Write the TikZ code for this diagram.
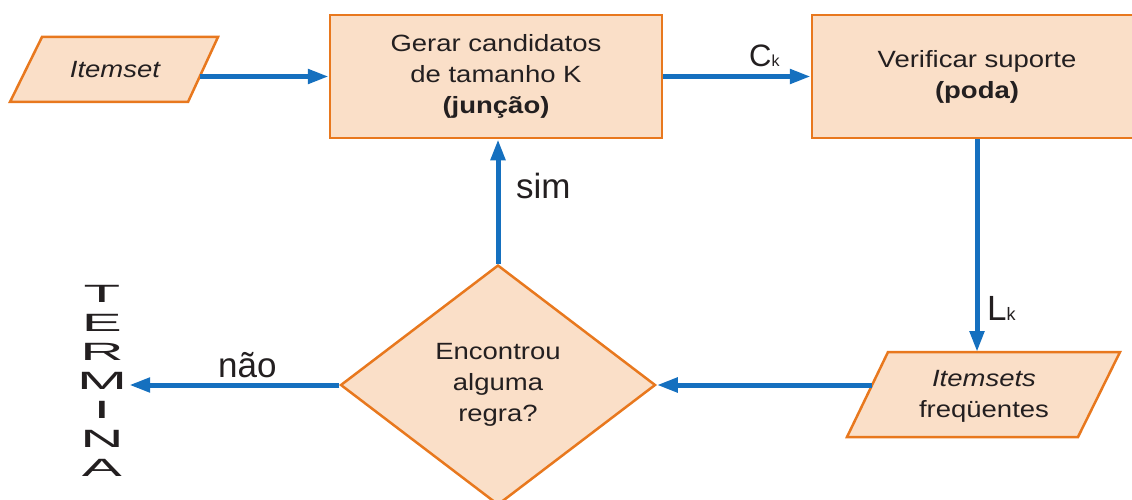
\documentclass[tikz,border=0pt]{standalone}
\usepackage{fontspec}
\setmainfont{Liberation Sans}
\newfontfamily\boxfont{Liberation Sans}[FakeStretch=1.17]
\newfontfamily\termfont{Liberation Sans}[FakeStretch=2.4]
\usetikzlibrary{shapes.geometric,arrows.meta}
\definecolor{peach}{RGB}{250,223,200}
\definecolor{orng}{RGB}{232,120,30}
\definecolor{arrblue}{RGB}{21,112,191}
\definecolor{ink}{RGB}{35,31,32}
\begin{document}
\begin{tikzpicture}[x=1pt,y=-1pt,
  shapebox/.style={draw=orng, fill=peach, line width=2.5pt},
  proc/.style={shapebox, rectangle, minimum width=332pt, minimum height=123pt, inner sep=0pt},
  boxtext/.style={text=ink, align=center, font=\boxfont\fontsize{23.5}{31}\selectfont},
  flow/.style={draw=arrblue, line width=5pt, -{Triangle[length=21pt,width=14pt]}},
  lbl/.style={text=ink, inner sep=0pt, anchor=base west}]
\clip (0,0) rectangle (1132,500);

% Itemset (input)
\draw[shapebox] (42,37) -- (218,37) -- (188,102) -- (10,102) -- cycle;
\node[boxtext, anchor=base, inner sep=0pt] (itemset) at (115,78) {\itshape Itemset};
\coordinate (itemsetout) at (199.5,76.5);

% process boxes
\node[proc, boxtext] (gerar) at (496,76.5) {Gerar candidatos\\de tamanho K\\\textbf{(junção)}};
\node[proc, boxtext, minimum width=330pt] (verif) at (977,76.5) {Verificar suporte\\\textbf{(poda)}};

% Itemsets frequentes
\draw[shapebox] (888,352) -- (1120,352) -- (1078,437) -- (847,437) -- cycle;
\node[boxtext, inner sep=0pt] (freq) at (984,396) {\textit{Itemsets}\\freqüentes};
\coordinate (freqin) at (977,352);
\coordinate (freqout) at (872,385);

% decision
\node[shapebox, diamond, boxtext, minimum width=315pt, minimum height=240pt, inner sep=0pt] (dec) at (498,385) {Encontrou\\alguma\\regra?};

% TERMINA
\node[text=ink, align=center, inner sep=2pt, font=\termfont\fontsize{25}{29}\selectfont] (term) at (102,381) {T\\E\\R\\M\\I\\N\\A};

% connectors
\draw[flow] (itemsetout) -- (gerar.west);
\draw[flow] (gerar.east) -- (verif.west);
\draw[flow] (verif.south) -- (freqin);
\draw[flow] (freqout) -- (dec.east);
\draw[flow] (dec.north) -- (dec.north |- gerar.south);
\draw[flow] (dec.west) -- (dec.west -| term.east);

% labels
\node[lbl, font=\fontsize{31}{31}\selectfont] (ck) at (749,67) {C{\fontsize{16}{16}\selectfont k}};
\node[lbl, font=\fontsize{35}{35}\selectfont] (lk) at (987,320) {L{\fontsize{18}{18}\selectfont k}};
\node[lbl, font=\fontsize{35}{35}\selectfont] (sim) at (516,198) {sim};
\node[lbl, font=\fontsize{35}{35}\selectfont] (nao) at (218,377) {não};
\end{tikzpicture}
\end{document}
